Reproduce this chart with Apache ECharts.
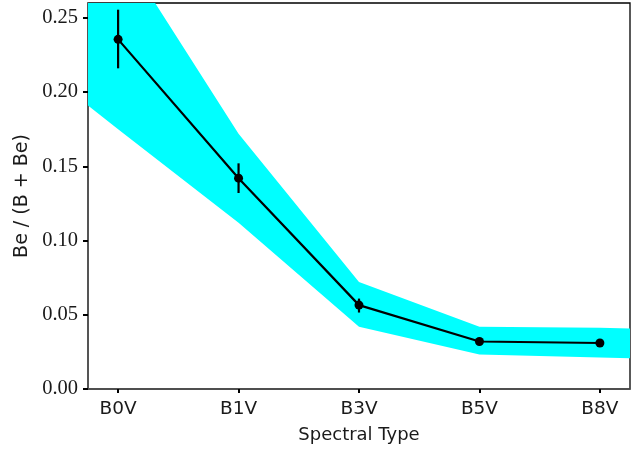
<!DOCTYPE html>
<html><head><meta charset="utf-8">
<script src="https://cdn.jsdelivr.net/npm/echarts@6/dist/echarts.min.js"></script>
<style>html,body{margin:0;padding:0;background:#fff}#c{width:644px;height:449px}</style>
</head><body><div id="c"></div>
<script>
const categories = ['B0V','B1V','B3V','B5V','B8V'];
const catPos = [0,1,2,3,4];
const fraction = [0.2355, 0.142, 0.0565, 0.032, 0.031];
const errLow = [0.216, 0.132, 0.0515, 0.0295, 0.0285];
const errHigh = [0.2555, 0.152, 0.0609, 0.034, 0.0335];
const bandX = [-0.25, 0, 1, 2, 3, 4, 4.25];
const bandUpper = [0.331, 0.299, 0.172, 0.072, 0.042, 0.0413, 0.0407];
const bandLower = [0.191, 0.175, 0.112, 0.042, 0.0233, 0.0213, 0.0207];
const yTicks = [0, 0.05, 0.10, 0.15, 0.20, 0.25];

const chart = echarts.init(document.getElementById('c'), null, {renderer:'canvas'});
const bandData = bandX.map((x,i)=>[x, bandLower[i], bandUpper[i]]);
chart.setOption({
  animation:false,
  grid:{left:88,right:14,top:3,bottom:56,show:true,borderColor:'#000',borderWidth:1.3,backgroundColor:'#fff'},
  xAxis:{type:'value',min:-0.25,max:4.25,
    name:'Spectral Type',nameLocation:'middle',nameGap:37,
    nameTextStyle:{fontFamily:'DejaVu Sans',fontSize:18,color:'#1a1a1a'},
    axisLine:{show:true,onZero:false,lineStyle:{color:'#555',width:1.5}},
    axisTick:{show:true,length:4,lineStyle:{color:'#000',width:2},customValues:catPos},
    axisLabel:{customValues:catPos,margin:11,fontFamily:'DejaVu Sans',fontSize:18.5,color:'#1a1a1a',
      formatter:v=>categories[Math.round(v)]},
    splitLine:{show:false}},
  yAxis:{type:'value',min:0,max:0.26,
    name:'Be / (B + Be)',nameLocation:'middle',nameGap:56,nameRotate:90,
    nameTextStyle:{fontFamily:'DejaVu Sans',fontSize:19,color:'#1a1a1a'},
    axisLine:{show:true,onZero:false,lineStyle:{color:'#555',width:1.5}},
    axisTick:{show:true,length:5,lineStyle:{color:'#000',width:2},customValues:yTicks},
    axisLabel:{customValues:yTicks,margin:10,fontFamily:'Liberation Serif',fontSize:20.5,color:'#1a1a1a',
      formatter:v=>v.toFixed(2)},
    splitLine:{show:false}},
  series:[
    {type:'custom',clip:true,silent:true,z:1,data:bandData,
      renderItem:function(params,api){
        if(params.dataIndex!==0) return null;
        const up=[],lo=[];
        for(let i=0;i<bandData.length;i++){
          up.push(api.coord([bandData[i][0],bandData[i][2]]));
          lo.push(api.coord([bandData[i][0],bandData[i][1]]));
        }
        return {type:'polygon',shape:{points:up.concat(lo.reverse())},style:{fill:'#00FFFF'}};
      }},
    {type:'line',z:3,data:catPos.map((x,i)=>[x,fraction[i]]),symbol:'circle',symbolSize:9,
      itemStyle:{color:'#000'},lineStyle:{color:'#000',width:2.2}},
    {type:'custom',z:4,data:catPos.map((x,i)=>[x,errLow[i],errHigh[i]]),
      renderItem:function(params,api){
        const a=api.coord([api.value(0),api.value(1)]);
        const b=api.coord([api.value(0),api.value(2)]);
        return {type:'line',shape:{x1:a[0],y1:a[1],x2:b[0],y2:b[1]},style:{stroke:'#000',lineWidth:2.2}};
      }}
  ]
});
</script></body></html>
